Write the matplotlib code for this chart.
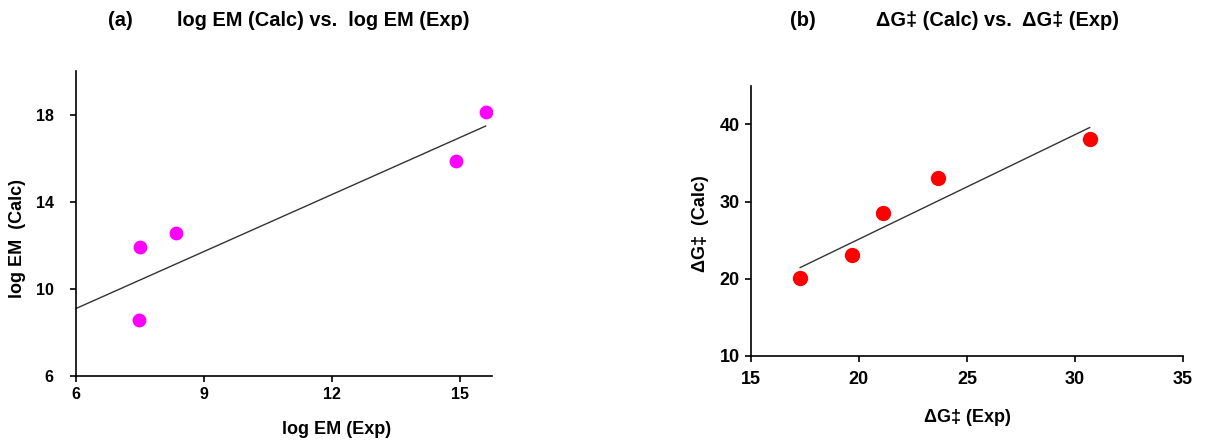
import matplotlib
matplotlib.use("Agg")
import matplotlib.pyplot as plt

plt.rcParams['font.family'] = ['Liberation Sans', 'DejaVu Sans']
plt.rcParams['font.weight'] = 'bold'

# panel (a): log EM
em_exp = [7.47, 7.51, 8.34, 14.9, 15.6]
em_calc = [8.56, 11.93, 12.57, 15.87, 18.12]
em_fit_x = [6.0, 15.6]
em_fit_y = [9.1, 17.48]

# panel (b): activation free energy
dg_exp = [17.28, 19.69, 21.11, 23.64, 30.68]
dg_calc = [20.13, 23.07, 28.54, 33.05, 38.15]
dg_fit_x = [17.28, 30.68]
dg_fit_y = [21.46, 39.6]

fig = plt.figure(figsize=(12.31, 4.45), dpi=100)

def style(ax, fs, ypad, xpad):
    for s in ['top', 'right']:
        ax.spines[s].set_visible(False)
    for s in ['left', 'bottom']:
        ax.spines[s].set_linewidth(1.2)
    ax.tick_params(direction='out', length=4, width=1.2, labelsize=fs)
    ax.tick_params(axis='y', pad=ypad)
    ax.tick_params(axis='x', pad=xpad)
    for lab in ax.get_xticklabels() + ax.get_yticklabels():
        lab.set_fontweight('bold')

# (a)
ax1 = fig.add_axes([0.0617, 0.155, 0.338, 0.685])
ax1.plot(em_fit_x, em_fit_y, color='#333333', lw=1.0, zorder=1)
ax1.scatter(em_exp, em_calc, s=80, color='#ff00ff', zorder=2)
ax1.set_xlim(6, 15.75)
ax1.set_ylim(6, 20)
ax1.set_xticks([6, 9, 12, 15])
ax1.set_yticks([6, 10, 14, 18])
style(ax1, 11.5, 12, 4)
ax1.set_xlabel('log EM (Exp)', fontsize=13, fontweight='bold')
ax1.xaxis.set_label_coords(0.627, -0.147)
ax1.set_ylabel('log EM  (Calc)', fontsize=13, fontweight='bold')
ax1.yaxis.set_label_coords(-0.12, 0.45)

# (b)
ax2 = fig.add_axes([0.610, 0.2, 0.351, 0.607])
ax2.plot(dg_fit_x, dg_fit_y, color='#333333', lw=1.0, zorder=1)
ax2.scatter(dg_exp, dg_calc, s=100, color='#ff0000', zorder=2)
ax2.set_xlim(15, 35)
ax2.set_ylim(10, 45)
ax2.set_xticks([15, 20, 25, 30, 35])
ax2.set_yticks([10, 20, 30, 40])
style(ax2, 13, 4, 7)
ax2.set_xlabel('ΔG‡ (Exp)', fontsize=13, fontweight='bold')
ax2.xaxis.set_label_coords(0.5, -0.198)
ax2.set_ylabel('ΔG‡  (Calc)', fontsize=13, fontweight='bold')
ax2.yaxis.set_label_coords(-0.097, 0.49)

fig.text(0.088, 0.955, '(a)', fontsize=14.4, fontweight='bold', ha='left', va='center')
fig.text(0.144, 0.955, 'log EM (Calc) vs.  log EM (Exp)', fontsize=14.4, fontweight='bold', ha='left', va='center')
fig.text(0.642, 0.955, '(b)', fontsize=14.4, fontweight='bold', ha='left', va='center')
fig.text(0.712, 0.955, 'ΔG‡ (Calc) vs.  ΔG‡ (Exp)', fontsize=14.4, fontweight='bold', ha='left', va='center')

fig.savefig('out.png', dpi=100)
